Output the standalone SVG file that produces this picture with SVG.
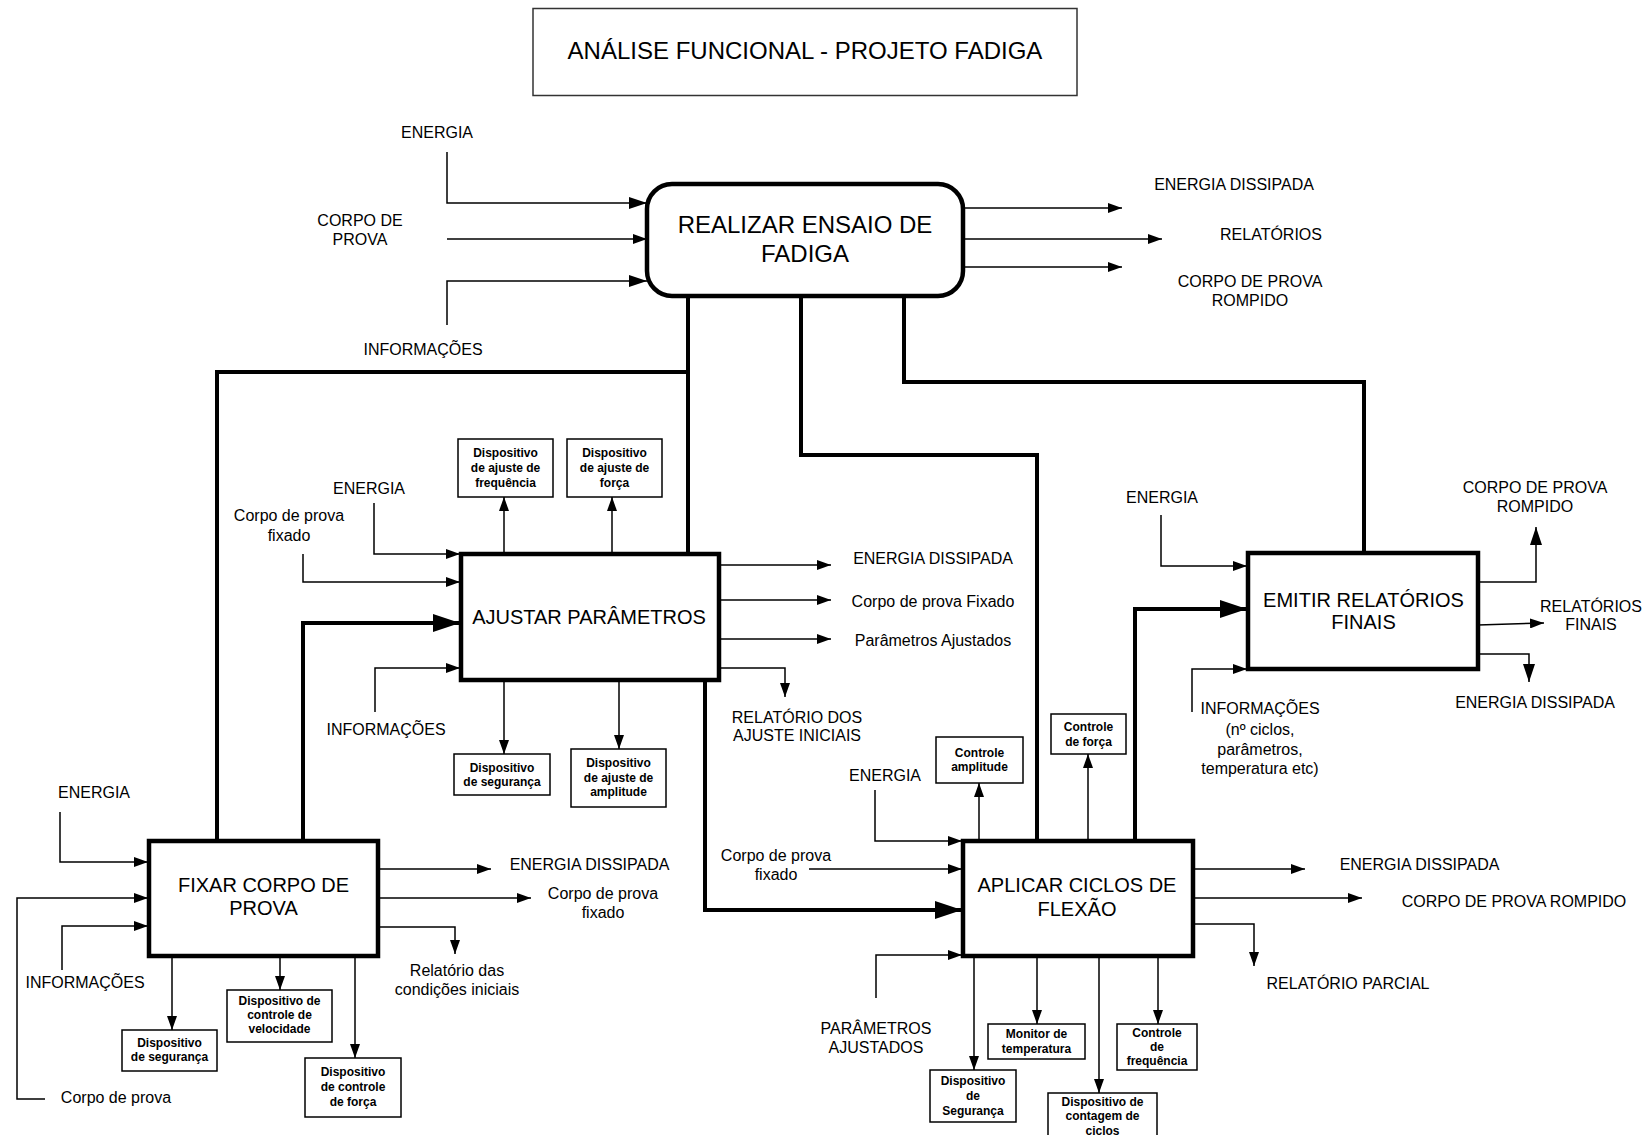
<svg xmlns="http://www.w3.org/2000/svg" width="1651" height="1135" viewBox="0 0 1651 1135">
<style>
text{font-family:"Liberation Sans",Arial,sans-serif;fill:#000;text-anchor:middle}
.lb{font-size:16px}
.bx{font-size:20px}
.sm{font-size:12px;font-weight:bold}
.main{fill:#fff;stroke:#000;stroke-width:4.5}
.dev{fill:#fff;stroke:#000;stroke-width:1.5}
.thin{fill:none;stroke:#000;stroke-width:1.5}
.thick{fill:none;stroke:#000;stroke-width:4}
</style>
<defs>
<marker id="a" markerUnits="userSpaceOnUse" markerWidth="14" markerHeight="10" refX="14" refY="5" orient="auto"><path d="M0,0 L14,5 L0,10 z" fill="#000"/></marker>
<marker id="m" markerUnits="userSpaceOnUse" markerWidth="18" markerHeight="12" refX="18" refY="6" orient="auto"><path d="M0,0 L18,6 L0,12 z" fill="#000"/></marker>
<marker id="t" markerUnits="userSpaceOnUse" markerWidth="27" markerHeight="18" refX="27" refY="9" orient="auto"><path d="M0,0 L27,9 L0,18 z" fill="#000"/></marker>
</defs>
<rect width="1651" height="1135" fill="#fff"/>

<g id="title">
<rect x="533" y="8.5" width="544" height="87" fill="#fff" stroke="#333" stroke-width="1.5"/>
<text x="805" y="59" style="font-size:24px">ANÁLISE FUNCIONAL - PROJETO FADIGA</text>
</g>

<g id="connectors">
<!-- Realizar -->
<path class="thin" d="M447,152 V203 H647" marker-end="url(#m)"/>
<path class="thin" d="M447,239 H647" marker-end="url(#a)"/>
<path class="thin" d="M447,325 V281 H647" marker-end="url(#m)"/>
<path class="thin" d="M963,208 H1122" marker-end="url(#a)"/>
<path class="thin" d="M963,239 H1162" marker-end="url(#a)"/>
<path class="thin" d="M963,267 H1122" marker-end="url(#a)"/>
<path class="thick" d="M688,296 V556"/>
<path class="thick" d="M688,372 H217 V841"/>
<path class="thick" d="M801,296 V455 H1037 V841"/>
<path class="thick" d="M904,296 V382 H1364 V553"/>
<path class="thick" d="M303,841 V623 H460" marker-end="url(#t)"/>
<path class="thick" d="M705,680 V910 H962" marker-end="url(#t)"/>
<path class="thick" d="M1135,841 V609 H1247" marker-end="url(#t)"/>
<!-- Ajustar -->
<path class="thin" d="M374,503 V554 H460" marker-end="url(#a)"/>
<path class="thin" d="M303,554 V582 H460" marker-end="url(#a)"/>
<path class="thin" d="M375,712 V668 H460" marker-end="url(#a)"/>
<path class="thin" d="M504,554 V497" marker-end="url(#a)"/>
<path class="thin" d="M612,554 V497" marker-end="url(#a)"/>
<path class="thin" d="M504,680 V754" marker-end="url(#a)"/>
<path class="thin" d="M619,680 V749" marker-end="url(#a)"/>
<path class="thin" d="M719,565 H831" marker-end="url(#a)"/>
<path class="thin" d="M719,600 H831" marker-end="url(#a)"/>
<path class="thin" d="M719,639 H831" marker-end="url(#a)"/>
<path class="thin" d="M719,668 H785 V697" marker-end="url(#a)"/>
<!-- Fixar -->
<path class="thin" d="M60,812 V862 H148" marker-end="url(#a)"/>
<path class="thin" d="M45,1099 H17 V898 H148" marker-end="url(#a)"/>
<path class="thin" d="M62,970 V926 H148" marker-end="url(#a)"/>
<path class="thin" d="M378,869 H491" marker-end="url(#a)"/>
<path class="thin" d="M378,898 H531" marker-end="url(#a)"/>
<path class="thin" d="M378,927 H455 V954" marker-end="url(#a)"/>
<path class="thin" d="M172,956 V1030" marker-end="url(#a)"/>
<path class="thin" d="M280,956 V990" marker-end="url(#a)"/>
<path class="thin" d="M355,956 V1058" marker-end="url(#a)"/>
<!-- Aplicar -->
<path class="thin" d="M875,790 V841 H962" marker-end="url(#a)"/>
<path class="thin" d="M809,869 H962" marker-end="url(#a)"/>
<path class="thin" d="M876,998 V955 H962" marker-end="url(#a)"/>
<path class="thin" d="M979,841 V783" marker-end="url(#a)"/>
<path class="thin" d="M1088,841 V754" marker-end="url(#a)"/>
<path class="thin" d="M1193,869 H1305" marker-end="url(#a)"/>
<path class="thin" d="M1193,898 H1362" marker-end="url(#a)"/>
<path class="thin" d="M1193,924 H1254 V966" marker-end="url(#a)"/>
<path class="thin" d="M974,956 V1070" marker-end="url(#a)"/>
<path class="thin" d="M1037,956 V1024" marker-end="url(#a)"/>
<path class="thin" d="M1099,956 V1093" marker-end="url(#a)"/>
<path class="thin" d="M1158,956 V1024" marker-end="url(#a)"/>
<!-- Emitir -->
<path class="thin" d="M1161,515 V566 H1247" marker-end="url(#a)"/>
<path class="thin" d="M1192,712 V669 H1247" marker-end="url(#a)"/>
<path class="thin" d="M1478,582 H1536 V527" marker-end="url(#m)"/>
<path class="thin" d="M1478,625 L1544,623" marker-end="url(#a)"/>
<path class="thin" d="M1478,654 H1529 V682" marker-end="url(#m)"/>
</g>

<g id="realizar">
<rect class="main" x="647" y="184" width="316" height="112" rx="25"/>
<text class="bx" x="805" y="233" style="font-size:24px">REALIZAR ENSAIO DE</text>
<text class="bx" x="805" y="262" style="font-size:24px">FADIGA</text>
</g>
<g id="realizar-labels">
<text class="lb" x="437" y="138">ENERGIA</text>
<text class="lb" x="360" y="226">CORPO DE</text>
<text class="lb" x="360" y="245">PROVA</text>
<text class="lb" x="423" y="355">INFORMAÇÕES</text>
<text class="lb" x="1234" y="190">ENERGIA DISSIPADA</text>
<text class="lb" x="1271" y="240">RELATÓRIOS</text>
<text class="lb" x="1250" y="287">CORPO DE PROVA</text>
<text class="lb" x="1250" y="306">ROMPIDO</text>
</g>

<g id="ajustar">
<rect class="main" x="461" y="554" width="258" height="126"/>
<text class="bx" x="589" y="624">AJUSTAR PARÂMETROS</text>
</g>
<g id="ajustar-labels">
<text class="lb" x="369" y="494">ENERGIA</text>
<text class="lb" x="289" y="521">Corpo de prova</text>
<text class="lb" x="289" y="541">fixado</text>
<text class="lb" x="386" y="735">INFORMAÇÕES</text>
<text class="lb" x="933" y="564">ENERGIA DISSIPADA</text>
<text class="lb" x="933" y="607">Corpo de prova Fixado</text>
<text class="lb" x="933" y="646">Parâmetros Ajustados</text>
<text class="lb" x="797" y="723">RELATÓRIO DOS</text>
<text class="lb" x="797" y="741">AJUSTE INICIAIS</text>
</g>
<g id="aj-freq"><rect class="dev" x="458" y="439" width="95" height="58"/>
<text class="sm" x="505.5" y="457">Dispositivo</text><text class="sm" x="505.5" y="472">de ajuste de</text><text class="sm" x="505.5" y="487">frequência</text></g>
<g id="aj-forca"><rect class="dev" x="567" y="439" width="95" height="58"/>
<text class="sm" x="614.5" y="457">Dispositivo</text><text class="sm" x="614.5" y="472">de ajuste de</text><text class="sm" x="614.5" y="487">força</text></g>
<g id="aj-seg"><rect class="dev" x="454" y="754" width="96" height="41"/>
<text class="sm" x="502" y="772">Dispositivo</text><text class="sm" x="502" y="786">de segurança</text></g>
<g id="aj-ampl"><rect class="dev" x="571" y="749" width="95" height="58"/>
<text class="sm" x="618.5" y="767">Dispositivo</text><text class="sm" x="618.5" y="782">de ajuste de</text><text class="sm" x="618.5" y="796">amplitude</text></g>

<g id="fixar">
<rect class="main" x="149" y="841" width="229" height="115"/>
<text class="bx" x="263.5" y="892">FIXAR CORPO DE</text>
<text class="bx" x="263.5" y="915">PROVA</text>
</g>
<g id="fixar-labels">
<text class="lb" x="94" y="798">ENERGIA</text>
<text class="lb" x="116" y="1103">Corpo de prova</text>
<text class="lb" x="85" y="988">INFORMAÇÕES</text>
<text class="lb" x="589.5" y="870">ENERGIA DISSIPADA</text>
<text class="lb" x="603" y="899">Corpo de prova</text>
<text class="lb" x="603" y="918">fixado</text>
<text class="lb" x="457" y="976">Relatório das</text>
<text class="lb" x="457" y="995">condições iniciais</text>
</g>
<g id="fx-seg"><rect class="dev" x="122" y="1030" width="95" height="41"/>
<text class="sm" x="169.5" y="1047">Dispositivo</text><text class="sm" x="169.5" y="1061">de segurança</text></g>
<g id="fx-vel"><rect class="dev" x="227" y="990" width="105" height="52"/>
<text class="sm" x="279.5" y="1005">Dispositivo de</text><text class="sm" x="279.5" y="1019">controle de</text><text class="sm" x="279.5" y="1033">velocidade</text></g>
<g id="fx-forca"><rect class="dev" x="305" y="1058" width="96" height="59"/>
<text class="sm" x="353" y="1076">Dispositivo</text><text class="sm" x="353" y="1091">de controle</text><text class="sm" x="353" y="1106">de força</text></g>

<g id="aplicar">
<rect class="main" x="963" y="841" width="230" height="115"/>
<text class="bx" x="1077" y="892">APLICAR CICLOS DE</text>
<text class="bx" x="1077" y="916">FLEXÃO</text>
</g>
<g id="aplicar-labels">
<text class="lb" x="885" y="781">ENERGIA</text>
<text class="lb" x="776" y="861">Corpo de prova</text>
<text class="lb" x="776" y="880">fixado</text>
<text class="lb" x="876" y="1034">PARÂMETROS</text>
<text class="lb" x="876" y="1053">AJUSTADOS</text>
<text class="lb" x="1419.5" y="870">ENERGIA DISSIPADA</text>
<text class="lb" x="1514" y="907">CORPO DE PROVA ROMPIDO</text>
<text class="lb" x="1348" y="989">RELATÓRIO PARCIAL</text>
</g>
<g id="ap-ampl"><rect class="dev" x="936" y="737" width="87" height="46"/>
<text class="sm" x="979.5" y="757">Controle</text><text class="sm" x="979.5" y="771">amplitude</text></g>
<g id="ap-forca"><rect class="dev" x="1051" y="714" width="75" height="40"/>
<text class="sm" x="1088.5" y="731">Controle</text><text class="sm" x="1088.5" y="746">de força</text></g>
<g id="ap-seg"><rect class="dev" x="930" y="1070" width="86" height="52"/>
<text class="sm" x="973" y="1085">Dispositivo</text><text class="sm" x="973" y="1100">de</text><text class="sm" x="973" y="1115">Segurança</text></g>
<g id="ap-temp"><rect class="dev" x="988" y="1024" width="97" height="35"/>
<text class="sm" x="1036.5" y="1038">Monitor de</text><text class="sm" x="1036.5" y="1053">temperatura</text></g>
<g id="ap-cont"><rect class="dev" x="1048" y="1093" width="109" height="50"/>
<text class="sm" x="1102.5" y="1106">Dispositivo de</text><text class="sm" x="1102.5" y="1120">contagem de</text><text class="sm" x="1102.5" y="1135">ciclos</text></g>
<g id="ap-freq"><rect class="dev" x="1117" y="1024" width="80" height="46"/>
<text class="sm" x="1157" y="1037">Controle</text><text class="sm" x="1157" y="1051">de</text><text class="sm" x="1157" y="1065">frequência</text></g>

<g id="emitir">
<rect class="main" x="1248" y="553" width="230" height="116"/>
<text class="bx" x="1363.5" y="607">EMITIR RELATÓRIOS</text>
<text class="bx" x="1363.5" y="629">FINAIS</text>
</g>
<g id="emitir-labels">
<text class="lb" x="1162" y="503">ENERGIA</text>
<text class="lb" x="1260" y="714">INFORMAÇÕES</text>
<text class="lb" x="1260" y="735">(nº ciclos,</text>
<text class="lb" x="1260" y="755">parâmetros,</text>
<text class="lb" x="1260" y="774">temperatura etc)</text>
<text class="lb" x="1535" y="493">CORPO DE PROVA</text>
<text class="lb" x="1535" y="512">ROMPIDO</text>
<text class="lb" x="1591" y="612">RELATÓRIOS</text>
<text class="lb" x="1591" y="630">FINAIS</text>
<text class="lb" x="1535" y="708">ENERGIA DISSIPADA</text>
</g>
</svg>
